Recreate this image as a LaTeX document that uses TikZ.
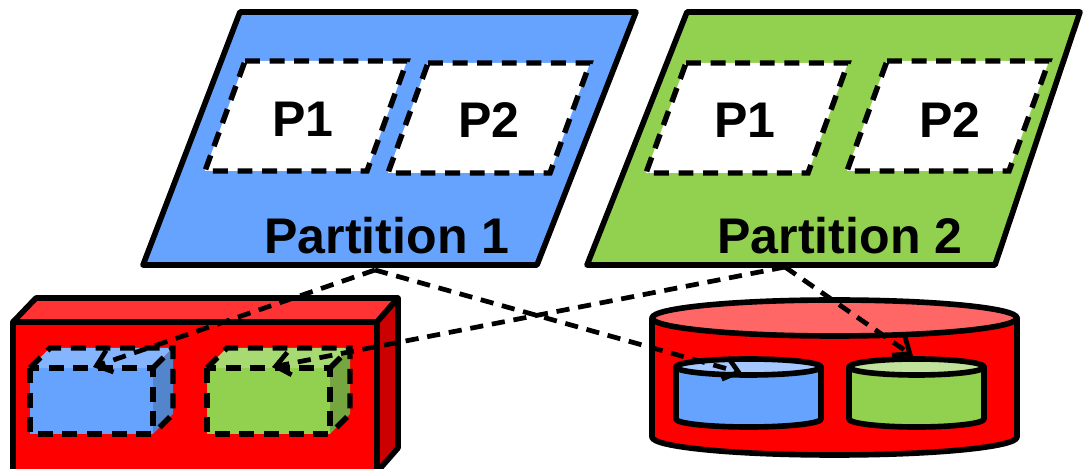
\documentclass[tikz,border=0pt]{standalone}
\usepackage{fontspec}
\setmainfont{Liberation Sans}
\usetikzlibrary{arrows.meta}
\definecolor{partblue}{HTML}{66A3FF}
\definecolor{partgreen}{HTML}{92D050}
\definecolor{hostred}{HTML}{FF0000}
\definecolor{hosttop}{HTML}{FF3333}
\definecolor{hostside}{HTML}{CC0000}
\definecolor{disktop}{HTML}{FF6666}
\definecolor{slotbluetop}{HTML}{85B5FF}
\definecolor{slotblueside}{HTML}{5285CC}
\definecolor{slotgreentop}{HTML}{A8DA73}
\definecolor{slotgreenside}{HTML}{75A640}
\definecolor{volbluetop}{HTML}{A4C8FF}
\definecolor{volgreentop}{HTML}{C0E29A}

\begin{document}
\begin{tikzpicture}[
  x=0.02cm, y=-0.02cm,
  >={Straight Barb[length=8pt,width=13pt]},
  outline/.style={draw=black, line width=3.2pt, line join=round},
  slot/.style={draw=black, line width=3.1pt, dash pattern=on 8.5pt off 5.5pt},
  label/.style={anchor=base, font=\fontsize{28.5}{32}\selectfont\bfseries},
  feed/.style={->, line width=2.7pt, dash pattern=on 7.5pt off 5pt},
]
\useasboundingbox (0,0) rectangle (1083,469);

% ---------- the two partitions ----------
\filldraw[outline, fill=partblue]  (240,12) -- (636,12) -- (537,265) -- (143,265) -- cycle;
\filldraw[outline, fill=partgreen] (687,12) -- (1080,12) -- (995,265) -- (587,265) -- cycle;

\foreach \sx/\sy in {245/61, 428/63, 686/63, 887/61}
  \filldraw[slot, fill=white] (\sx,\sy) -- ++(162,0) -- ++(-40,110) -- ++(-162,0) -- cycle;

\node[label] (a1) at (303,137) {P1};
\node[label] (a2) at (489,138) {P2};
\node[label] (b1) at (745,138) {P1};
\node[label] (b2) at (950,138) {P2};
\node[label] (part1) at (387,254) {Partition 1};
\node[label] (part2) at (840,254) {Partition 2};

% ---------- host box with two slots ----------
\filldraw[outline, fill=hosttop]  (13,322) -- (36,298) -- (398,298) -- (377,322) -- cycle;
\filldraw[outline, fill=hostside] (377,322) -- (398,298) -- (398,448) -- (377,472) -- cycle;
\filldraw[outline, fill=hostred]  (13,322) rectangle (377,472);

\foreach \bx/\front/\top/\side in {30/partblue/slotbluetop/slotblueside,
                                  207/partgreen/slotgreentop/slotgreenside}
{
  \fill[\top]  (\bx,368) -- ++(20,-20) -- ++(123,0) -- ++(-20,20) -- cycle;
  \fill[\side] (\bx+123,368) -- ++(20,-20) -- ++(0,66) -- ++(-20,20) -- cycle;
  \fill[\front] (\bx,368) rectangle ++(123,66);
  \draw[slot] (\bx,368) rectangle ++(123,66);
  \draw[slot] (\bx,368) -- ++(20,-20) -- ++(123,0) -- ++(0,66) -- ++(-20,20);
  \draw[slot] (\bx+123,368) -- ++(20,-20);
}

% ---------- disk with two volumes ----------
\filldraw[outline, fill=hostred] (652,318) -- (652,437)
  arc[start angle=180, end angle=0, x radius=182.5, y radius=18] -- (1017,318) -- cycle;
\filldraw[outline, fill=disktop] (834.5,318) ellipse[x radius=182.5, y radius=18];

\foreach \cx/\rx/\body/\top in {748.5/72.5/partblue/volbluetop, 916.5/67.5/partgreen/volgreentop}
{
  \filldraw[outline, fill=\body] (\cx-\rx,367) -- (\cx-\rx,419)
    arc[start angle=180, end angle=0, x radius=\rx, y radius=8] -- (\cx+\rx,367) -- cycle;
  \filldraw[outline, fill=\top] (\cx,367) ellipse[x radius=\rx, y radius=8];
}

% ---------- placement arrows ----------
\coordinate (p1out) at (375,270);
\coordinate (p2out) at (785,267);
\coordinate (blueslot) at (93,367);
\coordinate (greenslot) at (272,367);
\coordinate (bluevol) at (742,373);
\coordinate (greenvol) at (913,356);

\draw[feed] (p1out) -- (blueslot);
\draw[feed] (p2out) -- (greenslot);
\draw[feed] (p1out) -- (bluevol);
\draw[feed] (p2out) -- (greenvol);

\end{tikzpicture}
\end{document}
